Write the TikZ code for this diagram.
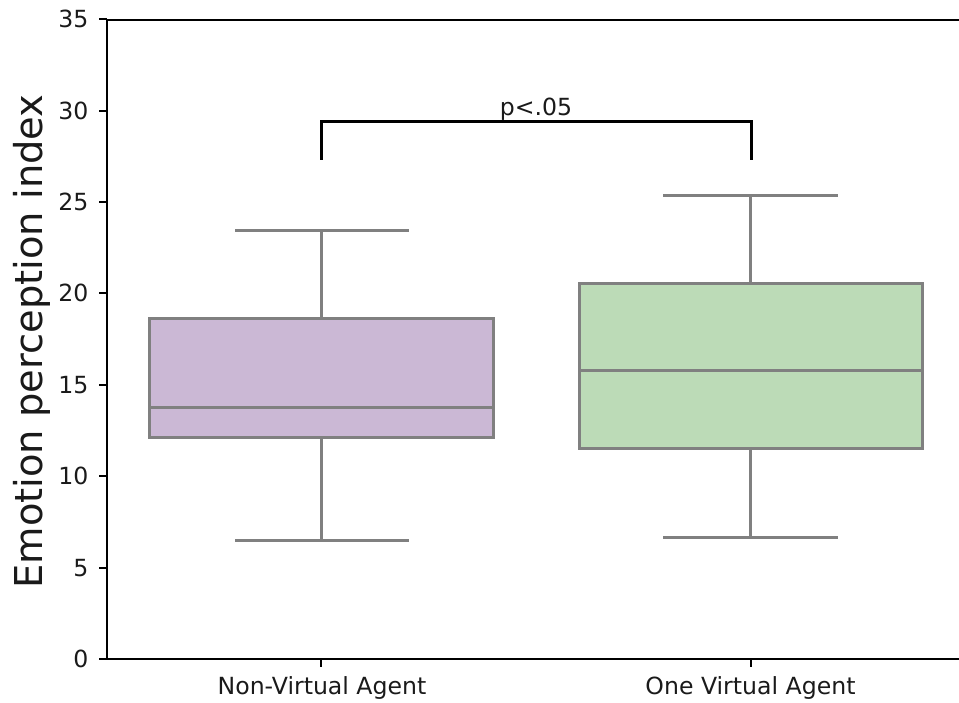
\documentclass[tikz,border=0pt]{standalone}
\usepackage{fontspec}
\setmainfont{DejaVu Sans}
\definecolor{boxpurple}{RGB}{203,184,213}
\definecolor{boxgreen}{RGB}{188,219,183}
\definecolor{linegrey}{RGB}{128,128,128}
\definecolor{textblack}{RGB}{26,26,26}
\tikzset{
  spine/.style={line width=2pt, black, line cap=rect},
  tickmark/.style={line width=2pt, black},
  ticklabel/.style={inner sep=0pt, text=textblack, font=\fontsize{23.6}{28}\selectfont},
  boxline/.style={line width=3pt, linegrey},
  whisk/.style={line width=3pt, linegrey, line cap=butt},
  bracket/.style={line width=3pt, black}
}
\begin{document}
\begin{tikzpicture}[x=1pt,y=-1pt]
\useasboundingbox (0,0) rectangle (959,703);
% axes spines
\coordinate (tr) at (959,20);
\coordinate (tl) at (107,20);
\coordinate (bl) at (107,659);
\coordinate (br) at (959,659);
\draw[spine] (tr) -- (tl) -- (bl) -- (br);
% y ticks
\foreach \v in {0,5,...,35} {
  \pgfmathsetmacro{\yy}{659-18.28*\v}
  \draw[tickmark] (99,\yy) -- (107,\yy);
  \node[ticklabel, anchor=east] (yt\v) at (88.5,\yy) {\v};
}
% x ticks
\draw[tickmark] (321,659) -- (321,667);
\draw[tickmark] (750.5,659) -- (750.5,667);
\node[ticklabel, anchor=base] (xl1) at (322,694) {Non-Virtual Agent};
\node[ticklabel, anchor=base] (xl2) at (750.5,694) {One Virtual Agent};
% y label
\node[inner sep=0pt, rotate=90, anchor=base, text=textblack, font=\fontsize{38.4}{44}\selectfont] (ylab) at (42,341.5) {Emotion perception index};
% box 1
\coordinate (b1top) at (321,319);
\coordinate (b1bot) at (321,437);
\coordinate (b1wt) at (321,231);
\coordinate (b1wb) at (321,540.7);
\draw[whisk] (b1top) -- (b1wt);
\draw[whisk] (b1bot) -- (b1wb);
\draw[whisk] (235,231) -- (409,231);
\draw[whisk] (235,540.7) -- (409,540.7);
\draw[boxline, fill=boxpurple] (149,319) rectangle (493,437);
\draw[boxline] (149,407) -- (493,407);
% box 2
\coordinate (b2top) at (750.5,284);
\coordinate (b2bot) at (750.5,448);
\coordinate (b2wt) at (750.5,196);
\coordinate (b2wb) at (750.5,537);
\draw[whisk] (b2top) -- (b2wt);
\draw[whisk] (b2bot) -- (b2wb);
\draw[whisk] (663,196) -- (838,196);
\draw[whisk] (663,537) -- (838,537);
\draw[boxline, fill=boxgreen] (579,284) rectangle (922,448);
\draw[boxline] (579,371) -- (922,371);
% significance bracket
\coordinate (brl) at (321,160);
\coordinate (brlt) at (321,121.7);
\coordinate (brrt) at (751,121.7);
\coordinate (brr) at (751,160);
\draw[bracket] (brl) -- (brlt) -- (brrt) -- (brr);
\node[ticklabel, anchor=base] (sig) at (536,116) {p<.05};
\end{tikzpicture}
\end{document}
